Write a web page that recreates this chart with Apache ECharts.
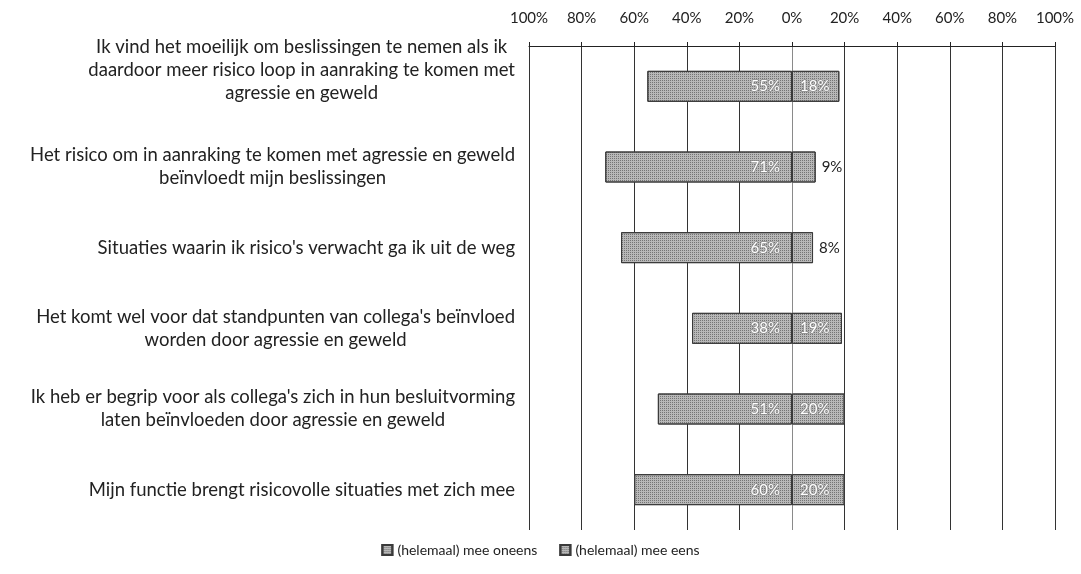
<!DOCTYPE html>
<html>
<head>
<meta charset="utf-8">
<script src="https://cdn.jsdelivr.net/npm/echarts@6/dist/echarts.min.js"></script>
<style>
  html, body { margin: 0; padding: 0; background: #fff; }
  #chart { width: 1081px; height: 574px; }
</style>
</head>
<body>
<div id="chart"></div>
<script>
// stellingen (bovenaan eerst)
const categories = [
  "Ik vind het moeilijk om beslissingen te nemen als ik\ndaardoor meer risico loop in aanraking te komen met\nagressie en geweld",
  "Het risico om in aanraking te komen met agressie en geweld\nbeïnvloedt mijn beslissingen",
  "Situaties waarin ik risico's verwacht ga ik uit de weg",
  "Het komt wel voor dat standpunten van collega's beïnvloed\nworden door agressie en geweld",
  "Ik heb er begrip voor als collega's zich in hun besluitvorming\nlaten beïnvloeden door agressie en geweld",
  "Mijn functie brengt risicovolle situaties met zich mee"
];
const oneens = [55, 71, 65, 38, 51, 60];   // (helemaal) mee oneens
const eens = [18, 9, 8, 19, 20, 20];       // (helemaal) mee eens
const seriesNames = ["(helemaal) mee oneens", "(helemaal) mee eens"];
const tickColors = ["#333", "#333", "#333", "#333", "#333", "#8a8a8a", "#333", "#333", "#333", "#333", "#333"];

const chart = echarts.init(document.getElementById("chart"));
const font = "Lato, 'Open Sans', sans-serif";

const textureDecal = {
  symbol: "rect",
  symbolSize: 1,
  dashArrayX: [1, 1],
  dashArrayY: [1, 1],
  rotation: 0,
  color: "rgba(70,70,70,0.6)"
};

const barLabel = (pos, dist) => ({
  show: true,
  position: pos,
  distance: dist,
  fontFamily: font,
  fontSize: 15,
  color: "#fff",
  textBorderColor: "#8a8a8a",
  textBorderWidth: 1.5,
  formatter: p => Math.abs(p.value) + "%"
});

chart.setOption({
  animation: false,
  textStyle: { fontFamily: font },
  grid: { left: 529, right: 26, top: 46, bottom: 44 },
  legend: {
    bottom: 12,
    left: "center",
    itemWidth: 10,
    itemHeight: 10,
    itemGap: 22,
    icon: "rect",
    textStyle: { fontFamily: font, fontSize: 14, color: "#222" },
    data: seriesNames
  },
  xAxis: {
    type: "value",
    position: "top",
    min: -100,
    max: 100,
    interval: 20,
    axisLine: { show: true, lineStyle: { color: "#222", width: 1 } },
    axisTick: { show: true, length: 4, lineStyle: { color: "#222" } },
    axisLabel: {
      margin: 20,
      fontSize: 15,
      color: "#222",
      formatter: v => Math.abs(v) + "%"
    },
    splitLine: { show: true, lineStyle: { color: tickColors, width: 1 } }
  },
  yAxis: {
    type: "category",
    inverse: true,
    data: categories,
    axisLine: { show: false },
    axisTick: { show: false },
    axisLabel: {
      align: "right",
      margin: 14,
      fontSize: 18.5,
      color: "#222",
      lineHeight: 23,
      formatter: (v, i) => {
        const s = v.split("\n").map(l => "{c|" + l + "}").join("\n");
        // eerste stelling staat in het origineel iets hoger
        return i === 0 ? s + "\n{sp| }" : s;
      },
      rich: {
        c: { align: "center", fontSize: 18.5, lineHeight: 23, color: "#222", fontFamily: font },
        sp: { fontSize: 10, lineHeight: 32 }
      }
    }
  },
  series: [
    {
      name: seriesNames[0],
      type: "bar",
      stack: "total",
      barWidth: 31,
      data: oneens.map(v => -v),
      itemStyle: { color: "#b8b8b8", borderColor: "#3a3a3a", borderWidth: 1, decal: textureDecal },
      label: barLabel("insideRight", 12)
    },
    {
      name: seriesNames[1],
      type: "bar",
      stack: "total",
      barWidth: 31,
      data: eens.map(v => v < 10
        ? { value: v, label: { position: "right", distance: 6, color: "#222", textBorderWidth: 0 } }
        : v),
      itemStyle: { color: "#b8b8b8", borderColor: "#3a3a3a", borderWidth: 1, decal: textureDecal },
      label: barLabel("insideLeft", 8)
    }
  ]
});
</script>
</body>
</html>
